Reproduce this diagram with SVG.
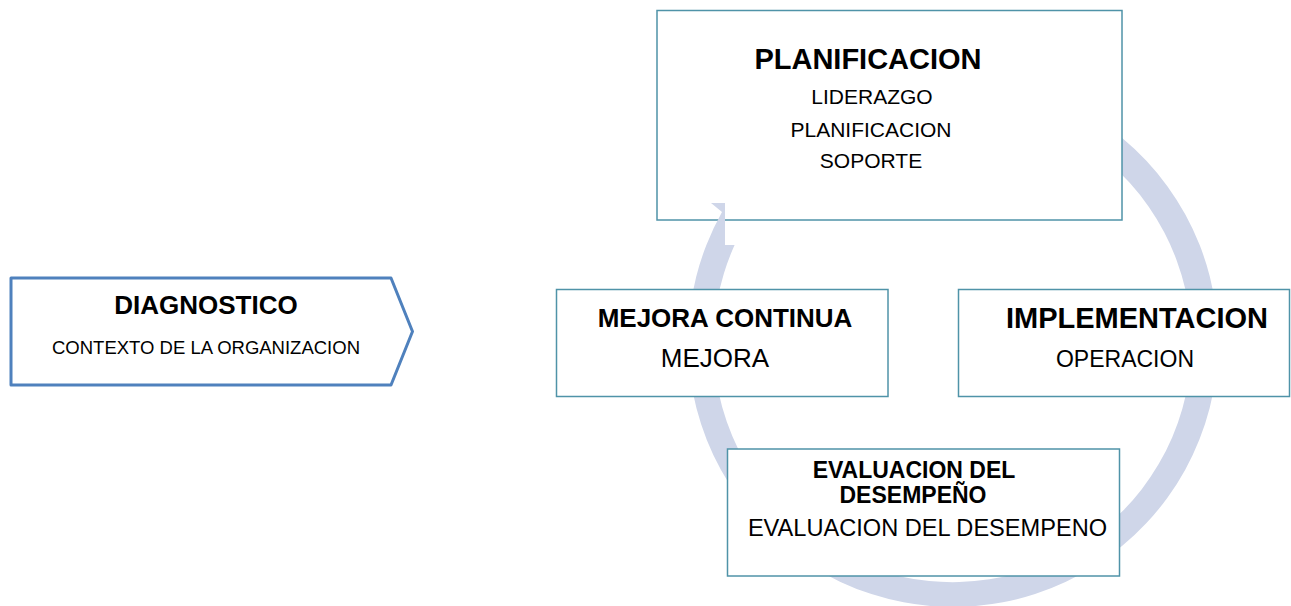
<svg xmlns="http://www.w3.org/2000/svg" width="1291" height="606" viewBox="0 0 1291 606">
<style>
text{font-family:"Liberation Sans",Arial,sans-serif;fill:#000;text-anchor:middle}
.b{font-weight:bold}
.box{fill:#fff;stroke:#4F93A8;stroke-width:1.5}
.ring{fill:#CFD6E9;stroke:none}
</style>
<rect width="1291" height="606" fill="#fff"/>
<g id="connectors">
<path class="ring" d="M734.6 245 A239 239 0 1 0 760.4 201 L739 185.7 A265 265 0 1 1 706.4 245 Z"/>
</g>
<g id="diagnostico">
<polygon points="11,278 391,278 412.5,331.5 391,385 11,385" fill="#fff" stroke="#4F81BD" stroke-width="3" stroke-linejoin="round"/>
<text class="b" x="206" y="314" font-size="26">DIAGNOSTICO</text>
<text x="206" y="354" font-size="18.5">CONTEXTO DE LA ORGANIZACION</text>
</g>
<g id="planificacion">
<rect class="box" x="657" y="10.5" width="465" height="209.5"/>
<text class="b" x="868" y="69" font-size="29">PLANIFICACION</text>
<text x="872" y="104" font-size="21">LIDERAZGO</text>
<text x="871" y="137" font-size="21">PLANIFICACION</text>
<text x="871" y="168" font-size="21">SOPORTE</text>
</g>
<g id="arrowhead">
<path class="ring" d="M711 203 L725 203 L725 245 L706.4 245 A265 265 0 0 1 722 212 Z"/>
</g>
<g id="mejora">
<rect class="box" x="556.5" y="289.5" width="331.5" height="107"/>
<text class="b" x="725" y="327" font-size="26">MEJORA CONTINUA</text>
<text x="715" y="367" font-size="26">MEJORA</text>
</g>
<g id="implementacion">
<rect class="box" x="958.5" y="289.5" width="331" height="107"/>
<text class="b" x="1137" y="328" font-size="29">IMPLEMENTACION</text>
<text x="1125" y="367" font-size="23">OPERACION</text>
</g>
<g id="evaluacion">
<rect class="box" x="727.5" y="449" width="392" height="127"/>
<text class="b" x="914" y="478" font-size="23">EVALUACION DEL</text>
<text class="b" x="913" y="503" font-size="23">DESEMPEÑO</text>
<text x="927.5" y="536" font-size="23.6">EVALUACION DEL DESEMPENO</text>
</g>
</svg>
